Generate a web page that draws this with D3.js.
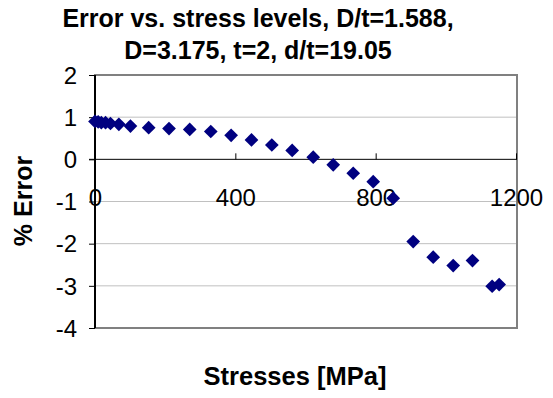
<!DOCTYPE html>
<html>
<head>
<meta charset="utf-8">
<script src="https://cdn.jsdelivr.net/npm/d3@7"></script>
<style>
  html, body { margin: 0; padding: 0; background: #fff; }
  svg { display: block; font-family: Arial, "Liberation Sans", sans-serif; }
</style>
</head>
<body>
<svg id="chart" width="553" height="398"></svg>
<script>
// Stress level [MPa] and the corresponding percentage error
const stresses = [0, 9, 18, 30, 44, 68, 101, 153, 211, 270, 330, 388, 446, 504, 562, 622, 679, 736, 793, 850, 907, 964, 1021, 1076, 1132, 1152];
const errors   = [0.90, 0.89, 0.87, 0.87, 0.85, 0.83, 0.79, 0.75, 0.73, 0.71, 0.66, 0.57, 0.46, 0.34, 0.21, 0.05, -0.13, -0.33, -0.53, -0.92, -1.95, -2.32, -2.52, -2.40, -3.01, -2.97];

const xTicks = [0, 400, 800, 1200];
const yTicks = [2, 1, 0, -1, -2, -3, -4];

const titleLines = ["Error vs. stress levels, D/t=1.588,", "D=3.175, t=2, d/t=19.05"];
const xTitle = "Stresses [MPa]";
const yTitle = "% Error";

const svg = d3.select("#chart");
const plot = { left: 95, right: 517, top: 75, bottom: 328 };

const x = d3.scaleLinear().domain([0, 1200]).range([plot.left, plot.right - 1]);
const y = d3.scaleLinear().domain([-4, 2]).range([plot.bottom, plot.top]);

// horizontal gridlines
svg.append("g")
  .selectAll("line")
  .data(yTicks.filter(d => d !== 0))
  .join("line")
  .attr("x1", plot.left).attr("x2", plot.right)
  .attr("y1", d => y(d)).attr("y2", d => y(d))
  .attr("stroke", "#c0c0c0").attr("stroke-width", 1);

// plot area border
svg.append("rect")
  .attr("x", plot.left).attr("y", plot.top)
  .attr("width", plot.right - plot.left).attr("height", plot.bottom - plot.top)
  .attr("fill", "none").attr("stroke", "#808080").attr("stroke-width", 2);

// y axis (at x = 0)
const yAxis = d3.axisLeft(y).tickValues(yTicks).tickSize(6).tickPadding(12)
  .tickFormat(d => String(d));
const gy = svg.append("g").attr("transform", `translate(${x(0)},0)`).call(yAxis);
gy.select(".domain").attr("stroke", "#000").attr("stroke-width", 2).attr("d", `M-0,${plot.top}V${plot.bottom}`);
gy.selectAll(".tick line").attr("stroke", "#000");
gy.selectAll(".tick text").attr("font-size", 24).attr("fill", "#000")
  .attr("font-family", "Arial, 'Liberation Sans', sans-serif").attr("dy", "0.34em");

// x axis (at y = 0), ticks pointing upward, labels below
const xAxis = d3.axisTop(x).tickValues(xTicks).tickSize(6).tickFormat(d => String(d));
const gx = svg.append("g").attr("transform", `translate(0,${y(0)})`).call(xAxis);
gx.select(".domain").attr("stroke", "#000").attr("stroke-width", 1).attr("d", `M${plot.left - 6},0H${plot.right}`);
gx.selectAll(".tick line").attr("stroke", "#000");
gx.selectAll(".tick text").attr("font-size", 24).attr("fill", "#000")
  .attr("font-family", "Arial, 'Liberation Sans', sans-serif")
  .attr("y", 47).attr("dy", "0");

// data markers (diamonds)
const diamond = d3.symbol().type(d3.symbolDiamond2).size(120);
svg.append("g")
  .selectAll("path")
  .data(stresses.map((s, i) => [s, errors[i]]))
  .join("path")
  .attr("d", diamond)
  .attr("transform", d => `translate(${x(d[0])},${y(d[1])})`)
  .attr("fill", "#000080");

// title
svg.append("text")
  .attr("x", 258).attr("y", 27)
  .attr("text-anchor", "middle")
  .attr("font-size", 25).attr("font-weight", "bold")
  .selectAll("tspan")
  .data(titleLines)
  .join("tspan")
  .attr("x", 258)
  .attr("dy", (d, i) => i === 0 ? 0 : 32)
  .text(d => d);

// axis titles
svg.append("text")
  .attr("x", 295).attr("y", 385)
  .attr("text-anchor", "middle")
  .attr("font-size", 25.5).attr("font-weight", "bold")
  .text(xTitle);

svg.append("text")
  .attr("transform", "translate(32,201) rotate(-90)")
  .attr("text-anchor", "middle")
  .attr("font-size", 25).attr("font-weight", "bold")
  .text(yTitle);
</script>
</body>
</html>
